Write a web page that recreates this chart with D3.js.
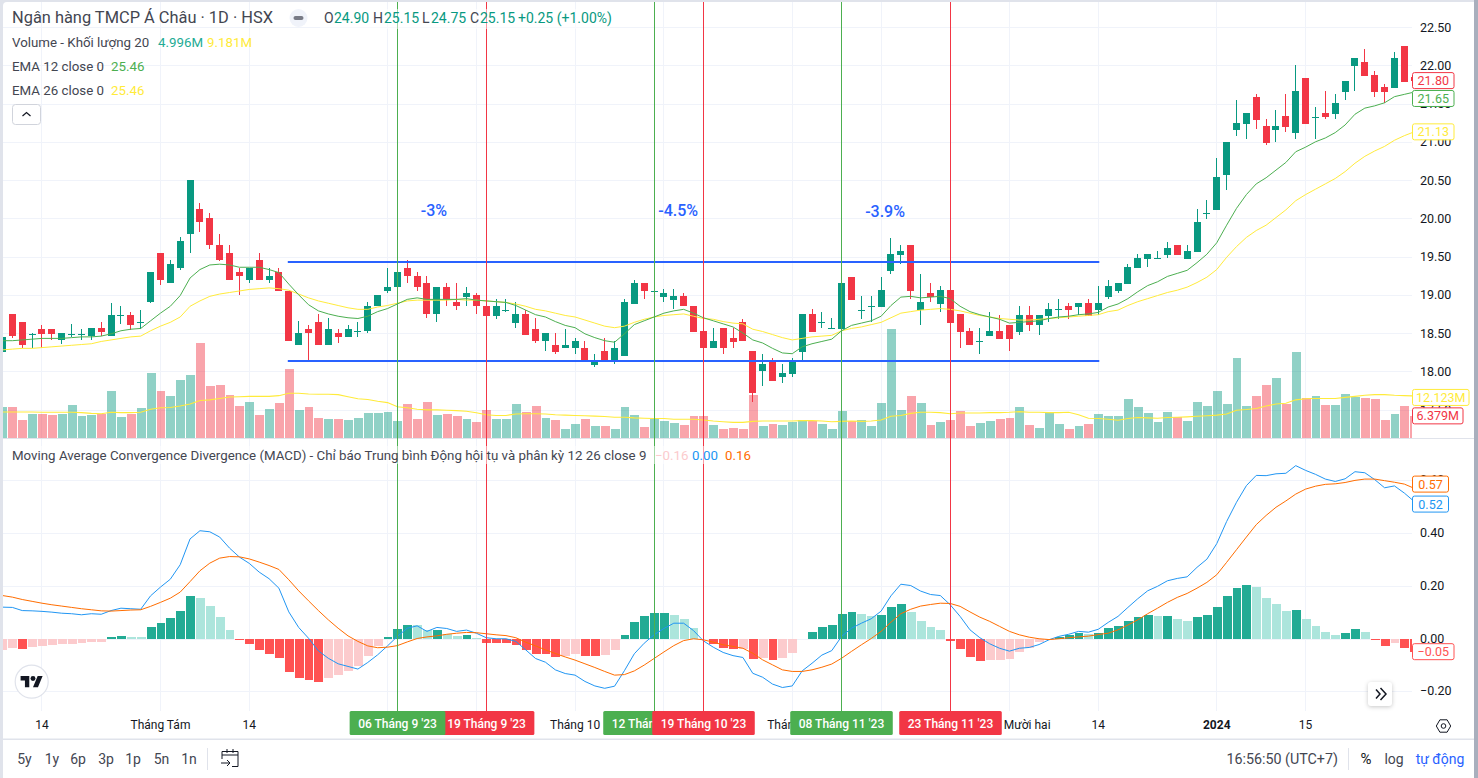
<!DOCTYPE html>
<html><head><meta charset="utf-8">
<script src="https://cdn.jsdelivr.net/npm/d3@7"></script>
<style>html,body{margin:0;padding:0;background:#fff;overflow:hidden}svg{display:block}text{font-family:Roboto,sans-serif}</style>
</head><body><svg id="c" width="1478" height="778"></svg>
<script>
const opens=[18.25,18.75,18.65,18.49,18.55,18.55,18.41,18.49,18.49,18.46,
18.56,18.46,18.74,18.74,18.65,18.91,19.55,19.15,19.35,19.80,
20.12,20.00,19.65,19.55,19.30,19.20,19.45,19.20,19.30,19.05,
18.35,18.55,18.65,18.35,18.50,18.45,18.53,18.53,18.85,19.05,
19.10,19.35,19.25,19.15,18.75,19.10,18.90,18.97,19.00,18.85,
18.72,18.80,18.63,18.75,18.55,18.40,18.35,18.30,18.30,18.30,
18.08,18.27,18.13,18.20,18.88,19.15,19.05,18.97,18.93,18.98,
18.85,18.53,18.30,18.57,18.43,18.65,18.27,18.00,18.15,17.93,
17.96,18.25,18.75,18.65,18.56,18.55,19.23,18.80,18.85,18.84,
19.31,19.52,19.65,18.80,19.02,18.88,19.06,18.75,18.53,18.39,
18.46,18.53,18.60,18.52,18.74,18.60,18.72,18.81,18.85,18.84,
18.89,18.80,18.97,19.05,19.14,19.35,19.47,19.48,19.52,19.65,
19.47,19.56,20.07,20.11,20.57,21.15,21.23,21.59,21.21,21.15,
21.34,21.12,21.83,21.33,21.38,21.36,21.65,21.99,22.04,21.87,
21.72,21.70,22.25,21.85];
const closes=[18.45,18.46,18.35,18.49,18.49,18.49,18.50,18.49,18.49,18.56,
18.51,18.74,18.74,18.60,18.65,19.30,19.20,19.40,19.70,20.50,
19.95,19.65,19.45,19.20,19.25,19.35,19.20,19.25,19.05,18.40,
18.50,18.50,18.35,18.55,18.45,18.55,18.53,18.85,19.00,19.10,
19.30,19.25,19.10,18.75,19.10,18.95,18.85,19.03,18.85,18.72,
18.85,18.80,18.75,18.47,18.40,18.50,18.25,18.35,18.40,18.13,
18.15,18.13,18.30,18.90,19.15,19.05,19.05,19.02,18.98,18.85,
18.52,18.30,18.40,18.30,18.38,18.40,17.72,18.10,17.87,17.98,
18.15,18.75,18.52,18.65,18.56,19.15,18.93,18.80,18.85,19.06,
19.53,19.57,19.05,18.90,18.97,19.06,18.63,18.52,18.35,18.39,
18.53,18.42,18.42,18.74,18.60,18.74,18.81,18.81,18.80,18.89,
18.72,18.89,19.12,19.15,19.36,19.48,19.53,19.48,19.61,19.52,
19.57,19.95,20.07,20.54,21.00,21.25,21.38,21.29,20.98,21.21,
21.19,21.66,21.23,21.33,21.32,21.51,21.80,22.10,21.86,21.65,
21.65,22.10,21.78,21.80];
const highs=[18.47,18.75,18.65,18.50,18.60,18.55,18.50,18.62,18.55,18.56,
18.64,18.89,18.85,18.78,18.80,19.30,19.55,19.45,19.75,20.50,
20.20,20.07,19.80,19.65,19.35,19.35,19.55,19.35,19.35,19.05,
18.66,18.60,18.75,18.70,18.55,18.60,18.65,18.90,19.00,19.35,
19.30,19.45,19.30,19.25,19.10,19.15,19.15,19.10,19.03,18.85,
18.95,18.95,18.90,18.80,18.70,18.50,18.50,18.55,18.43,18.40,
18.23,18.43,18.40,18.95,19.20,19.15,19.23,19.07,19.07,19.03,
18.85,18.53,18.57,18.57,18.57,18.68,18.27,18.23,18.18,18.10,
18.18,18.75,18.82,18.78,18.70,19.23,19.23,18.98,18.98,19.23,
19.74,19.65,19.65,19.27,19.15,19.12,19.06,18.75,18.57,18.57,
18.77,18.74,18.60,18.85,18.85,18.74,18.89,18.95,18.89,18.89,
18.95,19.12,19.20,19.15,19.40,19.53,19.53,19.57,19.69,19.65,
19.65,20.12,20.24,20.79,21.00,21.55,21.38,21.63,21.30,21.42,
21.63,22.00,21.83,21.45,21.66,21.63,21.80,22.10,22.21,21.93,
21.76,22.17,22.25,21.85];
const lows=[18.25,18.43,18.31,18.31,18.31,18.41,18.36,18.45,18.41,18.41,
18.46,18.46,18.62,18.54,18.55,18.89,19.13,19.15,19.33,19.55,
19.82,19.60,19.44,19.20,19.00,19.15,19.20,19.15,19.05,18.40,
18.35,18.15,18.35,18.35,18.37,18.45,18.45,18.50,18.85,19.03,
19.10,19.15,19.05,18.70,18.65,18.85,18.80,18.85,18.75,18.72,
18.68,18.78,18.57,18.47,18.37,18.27,18.22,18.30,18.22,18.13,
18.05,18.13,18.10,18.20,18.88,18.95,18.88,18.90,18.82,18.85,
18.52,18.30,18.30,18.23,18.30,18.40,17.60,17.81,17.87,17.85,
17.93,18.15,18.52,18.57,18.55,18.55,18.93,18.68,18.65,18.84,
19.27,19.40,18.95,18.60,18.90,18.78,18.63,18.30,18.35,18.23,
18.46,18.42,18.27,18.47,18.53,18.47,18.64,18.68,18.68,18.74,
18.72,18.74,18.95,19.02,19.14,19.35,19.36,19.47,19.48,19.52,
19.47,19.56,19.99,20.11,20.37,21.08,21.04,21.17,20.96,21.00,
21.13,21.04,21.23,21.04,21.30,21.30,21.55,21.66,21.86,21.59,
21.51,21.70,21.78,21.80];
const ema12=[18.40,18.40,18.41,18.42,18.43,18.43,18.43,18.44,18.45,18.45,
18.46,18.49,18.53,18.55,18.56,18.66,18.76,18.85,18.99,19.22,
19.33,19.39,19.40,19.39,19.36,19.36,19.36,19.33,19.29,19.14,
19.00,18.87,18.79,18.75,18.72,18.70,18.69,18.72,18.78,18.82,
18.88,18.94,18.96,18.94,18.94,18.94,18.94,18.95,18.93,18.92,
18.91,18.90,18.86,18.80,18.74,18.71,18.65,18.60,18.57,18.49,
18.44,18.40,18.38,18.49,18.61,18.66,18.71,18.76,18.79,18.81,
18.76,18.70,18.66,18.62,18.58,18.50,18.41,18.37,18.30,18.24,
18.23,18.32,18.36,18.39,18.42,18.53,18.60,18.63,18.66,18.72,
18.86,18.97,18.98,18.96,18.97,18.98,18.95,18.85,18.78,18.74,
18.71,18.68,18.63,18.64,18.65,18.66,18.69,18.71,18.72,18.74,
18.75,18.77,18.84,18.88,18.95,19.04,19.12,19.17,19.24,19.28,
19.32,19.42,19.53,19.68,19.91,20.13,20.31,20.45,20.53,20.63,
20.73,20.87,20.93,21.00,21.05,21.12,21.22,21.36,21.44,21.47,
21.51,21.59,21.62,21.65];
const ema26=[18.28,18.29,18.30,18.30,18.31,18.32,18.33,18.34,18.35,18.36,
18.39,18.41,18.43,18.45,18.46,18.53,18.59,18.64,18.71,18.85,
18.92,18.98,19.01,19.03,19.05,19.07,19.08,19.09,19.08,19.06,
19.01,18.96,18.92,18.89,18.86,18.83,18.81,18.81,18.84,18.86,
18.89,18.92,18.93,18.93,18.93,18.93,18.94,18.93,18.93,18.92,
18.91,18.90,18.88,18.85,18.81,18.79,18.76,18.73,18.71,18.67,
18.63,18.59,18.57,18.59,18.64,18.68,18.71,18.73,18.74,18.75,
18.72,18.69,18.68,18.65,18.63,18.62,18.55,18.52,18.48,18.44,
18.41,18.43,18.45,18.46,18.47,18.53,18.56,18.58,18.61,18.64,
18.70,18.76,18.78,18.80,18.81,18.82,18.81,18.79,18.76,18.73,
18.71,18.69,18.68,18.67,18.67,18.68,18.69,18.70,18.71,18.72,
18.73,18.74,18.78,18.80,18.86,18.91,18.95,18.99,19.03,19.06,
19.10,19.16,19.23,19.33,19.49,19.63,19.75,19.84,19.91,20.01,
20.11,20.23,20.31,20.38,20.45,20.52,20.61,20.72,20.81,20.88,
20.94,21.02,21.08,21.13];
const volumes=[8.9,8.9,5.2,6.9,6.9,6.6,6.9,9.5,6.3,6.6,
6.9,13.6,6.1,6.9,8.7,18.8,13.6,12.1,16.7,18.2,
27.4,15.0,15.3,12.4,9.2,10.4,6.6,8.4,10.1,19.9,
8.1,8.9,5.8,5.5,5.5,5.2,5.8,7.2,7.2,7.5,
4.9,9.8,5.5,10.4,6.6,6.9,6.3,5.5,4.6,8.1,
5.5,5.5,9.8,7.5,9.2,5.8,5.2,2.6,4.0,5.5,
3.5,3.5,2.6,8.9,6.6,3.2,5.5,4.9,4.3,3.8,
6.3,6.3,3.8,2.6,2.9,2.6,12.4,3.5,4.0,3.8,
4.6,5.2,4.9,4.0,2.6,7.8,4.9,5.2,3.5,10.1,
31.4,8.1,12.1,10.1,3.8,4.6,5.2,7.8,3.5,4.3,
4.9,5.5,5.8,8.9,3.8,2.9,7.2,4.0,2.6,3.5,
4.0,6.9,6.3,6.3,11.25,8.9,7.2,4.6,7.5,6.1,
4.9,10.4,9.2,13.6,9.8,23.1,9.2,12.1,15.3,17.3,
9.8,24.8,11.5,12.1,9.5,9.5,12.7,11.8,11.5,11.25,
5.2,6.9,9.2,6.379];
const volumeMA=[7.5,7.5,7.5,7.5,7.4,7.4,7.4,7.4,7.3,7.1,
7.0,7.4,7.3,7.3,7.4,8.3,8.7,8.8,9.2,9.8,
10.8,11.0,11.4,11.8,11.9,12.0,12.0,12.0,12.2,12.9,
12.9,12.7,12.6,12.6,12.5,11.9,11.3,11.1,10.6,10.2,
9.0,8.7,8.3,8.1,8.1,8.0,7.9,7.7,7.3,6.7,
6.5,6.5,6.9,7.0,7.0,6.9,6.7,6.6,6.5,6.4,
6.3,6.2,6.0,6.0,5.8,5.7,5.6,5.6,5.4,5.4,
5.4,5.2,4.9,4.7,4.5,4.5,4.8,4.9,4.9,4.9,
4.9,5.0,5.0,4.9,4.7,4.8,4.9,4.8,4.9,5.2,
6.25,6.5,7.1,7.4,7.4,7.3,7.0,7.2,7.2,7.2,
7.3,7.3,7.4,7.6,7.4,7.4,7.3,7.3,7.4,6.7,
5.7,5.6,5.4,5.1,5.6,5.9,5.8,5.7,5.9,6.0,
6.1,6.25,6.4,6.6,6.9,8.0,8.2,8.5,9.2,9.8,
10.0,11.0,11.3,11.4,11.4,11.4,11.7,12.0,12.3,12.5,
12.5,12.3,12.2,12.123];
const macdLine=[.119,.118,.106,.105,.103,.100,.096,.094,.090,.094,
.092,.106,.115,.113,.111,.162,.195,.225,.280,.378,
.409,.405,.385,.343,.309,.285,.252,.227,.191,.101,
.042,.001,-.047,-.075,-.096,-.106,-.116,-.091,-.062,-.028,
.008,.039,.048,.027,.042,.038,.027,.032,.020,.003,
-.001,-.001,-.011,-.043,-.076,-.090,-.119,-.133,-.139,-.163,
-.180,-.189,-.181,-.122,-.058,-.018,.014,.038,.058,.058,
.030,-.009,-.033,-.053,-.065,-.072,-.132,-.147,-.173,-.186,
-.180,-.123,-.094,-.063,-.046,.008,.039,.058,.075,.104,
.162,.206,.201,.180,.167,.163,.128,.084,.033,.003,
-.020,-.037,-.048,-.037,-.034,-.023,-.005,.008,.016,.027,
.024,.035,.061,.084,.118,.151,.181,.198,.219,.228,
.234,.270,.301,.360,.444,.517,.580,.619,.618,.625,
.627,.656,.638,.623,.605,.596,.606,.633,.629,.603,
.572,.579,.552,.52];
const signalLine=[.163,.157,.148,.141,.134,.128,.123,.118,.113,.109,
.105,.104,.106,.108,.109,.122,.137,.153,.176,.216,
.257,.286,.305,.311,.310,.302,.290,.277,.262,.223,
.181,.143,.106,.071,.039,.010,-.011,-.028,-.035,-.033,
-.027,-.013,.000,.006,.010,.016,.020,.023,.022,.018,
.014,.011,.003,-.014,-.028,-.043,-.057,-.070,-.082,-.096,
-.110,-.125,-.139,-.137,-.123,-.101,-.076,-.051,-.027,-.008,
-.001,-.005,-.014,-.024,-.030,-.037,-.056,-.081,-.100,-.119,
-.125,-.125,-.119,-.109,-.097,-.075,-.049,-.024,.000,.027,
.062,.094,.111,.123,.129,.134,.133,.122,.101,.081,
.065,.046,.027,.014,.005,-.001,-.004,-.001,.003,.006,
.009,.015,.020,.033,.051,.071,.094,.115,.137,.156,
.171,.191,.213,.242,.289,.337,.385,.432,.467,.498,
.522,.548,.567,.578,.585,.587,.592,.600,.605,.605,
.599,.593,.586,.57];
const histogram=[-.043,-.035,-.040,-.032,-.028,-.024,-.020,-.019,-.018,-.013,
-.012,.006,.010,.007,.006,.044,.060,.078,.105,.162,
.154,.124,.082,.033,-.005,-.020,-.043,-.058,-.073,-.127,
-.149,-.157,-.165,-.149,-.138,-.123,-.104,-.066,-.028,.006,
.037,.052,.051,.033,.034,.018,.010,.014,.003,-.016,
-.017,-.018,-.024,-.043,-.058,-.059,-.070,-.066,-.058,-.066,
-.067,-.062,-.043,.014,.063,.086,.097,.098,.090,.075,
.040,-.003,-.020,-.035,-.040,-.039,-.077,-.073,-.081,-.073,
-.054,-.003,.025,.044,.052,.094,.101,.094,.086,.090,
.120,.132,.101,.067,.044,.033,-.009,-.040,-.070,-.085,
-.081,-.080,-.077,-.051,-.035,-.013,-.005,.006,.014,.022,
.018,.022,.040,.048,.067,.082,.090,.086,.087,.075,
.067,.082,.090,.120,.162,.192,.204,.196,.154,.132,
.105,.109,.075,.048,.025,.014,.022,.037,.025,-.005,
-.028,-.016,-.035,-.05];
const priceTicks=[22.5,22,21.5,21,20.5,20,19.5,19,18.5,18,17.5];
const macdTicks=[0.6,0.4,0.2,0,-0.2];
const gridIndex=[4,16,25,39,48,58,67,80,89,102,111,123,132];
const timeLabels=[[4,"14"],[16,"Tháng Tám"],[25,"14"],[58,"Tháng 10"],[80,"Tháng 11"],[103.8,"Mười hai"],[111,"14"],[123,"2024"],[132,"15"]];
const markers=[[49,"19 Tháng 9 '23","r"],[40,"06 Tháng 9 '23","g"],[66,"12 Tháng 10 '23","g"],[71,"19 Tháng 10 '23","r"],[85,"08 Tháng 11 '23","g"],[96,"23 Tháng 11 '23","r"]];
const rangeLevels=[19.43,18.135];
const rangeSpan=[29,111];
const notes=[[43.7,20.03,"-3%"],[68.45,20.03,"-4.5%"],[89.4,20.02,"-3.9%"]];
const ranges=["5y","1y","6p","3p","1p","5n","1n"];

const green="#089981",red="#f23645",ink="#131722",soft="#434651";
const svg=d3.select("#c");
const X=d3.scaleLinear().domain([0,143]).range([2.5,1414.2]);
const Y=d3.scaleLinear().domain([18,20]).range([371.3,218.3]);
const V=d3.scaleLinear().domain([0,10]).range([438,403.3]);
const M=d3.scaleLinear().domain([0,0.2]).range([638.5,585.8]);
const idx=d3.range(opens.length);
const defs=svg.append("defs");
defs.append("clipPath").attr("id","top").append("rect").attr("x",3).attr("y",2).attr("width",1409).attr("height",436);
defs.append("clipPath").attr("id","bot").append("rect").attr("x",3).attr("y",439).attr("width",1409).attr("height",272);

function T(g,x,y,s,o={}){const t=g.append("text").attr("x",x).attr("y",y).text(s)
 .attr("font-size",o.size||13.3).attr("fill",o.fill||ink);
 if(o.anchor)t.attr("text-anchor",o.anchor); if(o.weight)t.attr("font-weight",o.weight); return t;}

// frame
svg.append("rect").attr("width",1478).attr("height",778).attr("fill","#e0e3eb");
svg.append("rect").attr("x",1474).attr("width",4).attr("height",778).attr("fill","#a9afbd");
svg.append("path").attr("d","M3 778V6a4 4 0 0 1 4-4H1474V778Z").attr("fill","#fff");

// grid
const grid=svg.append("g").attr("stroke","#f0f3fa").attr("shape-rendering","crispEdges");
grid.selectAll(".v").data(gridIndex).join("line").attr("x1",d=>Math.floor(X(d))+.5).attr("x2",d=>Math.floor(X(d))+.5).attr("y1",2).attr("y2",711);
grid.selectAll(".h").data(priceTicks).join("line").attr("x1",3).attr("x2",1412).attr("y1",d=>Math.round(Y(d))+.5).attr("y2",d=>Math.round(Y(d))+.5);
grid.selectAll(".m").data(macdTicks).join("line").attr("x1",3).attr("x2",1412).attr("y1",d=>Math.round(M(d))+.5).attr("y2",d=>Math.round(M(d))+.5);

const pricePane=svg.append("g").attr("clip-path","url(#top)");
// volume
const bandL=i=>Math.round(X(i-0.5))+1, bandR=i=>Math.round(X(i+0.5));
pricePane.append("g").attr("shape-rendering","crispEdges").selectAll("rect").data(idx).join("rect")
 .attr("x",bandL).attr("width",i=>bandR(i)-bandL(i))
 .attr("y",i=>V(volumes[i])).attr("height",i=>V(0)-V(volumes[i]))
 .attr("fill",i=>closes[i]>=opens[i]?green:red).attr("opacity",.45);
const line=(arr,sc)=>d3.line().x((d,i)=>X(i)).y(d=>sc(d))(arr);
pricePane.append("path").attr("d",line(volumeMA,V)).attr("fill","none").attr("stroke","#ffeb3b").attr("stroke-width",1.1);
// candles
const cg=pricePane.append("g").attr("shape-rendering","crispEdges");
cg.selectAll(".w").data(idx).join("rect").attr("x",i=>Math.floor(X(i))).attr("width",1)
 .attr("y",i=>Y(highs[i])).attr("height",i=>Math.max(1,Y(lows[i])-Y(highs[i])))
 .attr("fill",i=>closes[i]>=opens[i]?green:red);
cg.selectAll(".b").data(idx).join("rect").attr("x",i=>Math.floor(X(i))-3).attr("width",7)
 .attr("y",i=>Y(Math.max(opens[i],closes[i]))).attr("height",i=>Math.max(1,Math.abs(Y(opens[i])-Y(closes[i]))))
 .attr("fill",i=>closes[i]>=opens[i]?green:red);
pricePane.append("path").attr("d",line(ema26,Y)).attr("fill","none").attr("stroke","#ffeb3b").attr("stroke-width",1);
pricePane.append("path").attr("d",line(ema12,Y)).attr("fill","none").attr("stroke","#4caf50").attr("stroke-width",1);
// range lines
pricePane.selectAll(".r").data(rangeLevels).join("line").attr("x1",X(rangeSpan[0])-1).attr("x2",X(rangeSpan[1])+1)
 .attr("y1",d=>Y(d)).attr("y2",d=>Y(d)).attr("stroke","#2962ff").attr("stroke-width",2);

// MACD
const macdPane=svg.append("g").attr("clip-path","url(#bot)");
const histColor=i=>{const v=histogram[i],p=i?histogram[i-1]:v;
 return v>=0?(v>p?"#22ab94":"#ace5dc"):(v<p?"#ff5252":"#fccbcd");};
macdPane.append("g").attr("shape-rendering","crispEdges").selectAll("rect").data(idx).join("rect")
 .attr("x",bandL).attr("width",i=>bandR(i)-bandL(i))
 .attr("y",i=>Math.min(M(0),M(histogram[i]))).attr("height",i=>Math.abs(M(0)-M(histogram[i])))
 .attr("fill",histColor);
macdPane.append("path").attr("d",line(macdLine,M)).attr("fill","none").attr("stroke","#2196f3").attr("stroke-width",1);
macdPane.append("path").attr("d",line(signalLine,M)).attr("fill","none").attr("stroke","#ff6d00").attr("stroke-width",1);

// pane divider
svg.append("rect").attr("x",3).attr("y",438).attr("width",1471).attr("height",1).attr("fill","#e0e3eb");

// date markers lines
const mcol=k=>k==="g"?"#4caf50":"#f23645";
svg.append("g").attr("shape-rendering","crispEdges").selectAll("line").data(markers).join("line")
 .attr("x1",d=>Math.floor(X(d[0]))+.5).attr("x2",d=>Math.floor(X(d[0]))+.5).attr("y1",2).attr("y2",711)
 .attr("stroke",d=>mcol(d[2]));

// percentage notes
notes.forEach(n=>T(svg,X(n[0]),Y(n[1]),n[2],{anchor:"middle",size:16,fill:"#2962ff",weight:500}));

// legend translucent backing
svg.append("rect").attr("x",320).attr("y",9).attr("width",290).attr("height",20).attr("fill","#fff").attr("opacity",.5);
svg.append("rect").attr("x",12).attr("y",446).attr("width",740).attr("height",18).attr("fill","#fff").attr("opacity",.5);

// price axis
const ax=svg.append("g");
priceTicks.forEach(t=>T(ax,1420,Y(t)+4.5,t.toFixed(2),{size:12.5}));
macdTicks.forEach(t=>T(ax,1420,M(t)+4,(t<0?"−":"")+Math.abs(t).toFixed(2),{size:12.5}));

// value boxes
function box(cy,w,txt,col){const g=svg.append("g");
 g.append("rect").attr("x",1412.5).attr("y",cy-8).attr("width",w).attr("height",16).attr("rx",2)
  .attr("fill","#fff").attr("stroke",col);
 T(g,1412.5+w/2,cy+4.5,txt,{anchor:"middle",size:12.5,fill:col});}
box(Y(closes[143]),41.5,"21.80","#f23645");
box(Y(ema12[143])+6.4,41.5,"21.65","#4caf50");
box(Y(ema26[143]),41.5,"21.13","#ffeb3b");
box(V(volumeMA[143])+1.5,56.5,"12.123M","#ffeb3b");
box(V(volumes[143]),50.5,"6.379M","#f23645");
box(M(signalLine[143])-4.2,36,"0.57","#ff6d00");
box(M(macdLine[143])+.1+2.5,36,"0.52","#2196f3");
box(M(histogram[143])+0,41.5,"−0.05","#ff5252");

// time axis
const ta=svg.append("g");
timeLabels.forEach(d=>T(ta,X(d[0]),729,d[1],{anchor:"middle",size:12,weight:d[1]==="2024"?700:400}));
markers.forEach(d=>{const g=svg.append("g"),x=Math.floor(X(d[0]))+.5;
 const t=T(g,x,727.5,d[1],{anchor:"middle",size:12,fill:"#fff",weight:500});
 const w=t.node().getComputedTextLength()+17;
 g.insert("rect","text").attr("x",x-w/2).attr("y",711).attr("width",w).attr("height",24).attr("rx",1.5).attr("fill",mcol(d[2]));});
// gear
const gear=svg.append("g").attr("transform","translate(1443.5,726)").attr("fill","none").attr("stroke",ink);
gear.append("path").attr("d","M-3.6-6.2H3.6L7.2 0 3.6 6.2H-3.6L-7.2 0Z");
gear.append("circle").attr("r",2.3);

// legend
const lg=svg.append("g");
T(lg,12,23,"Ngân hàng TMCP Á Châu · 1D · HSX",{size:16.4,fill:soft});
lg.append("circle").attr("cx",298.5).attr("cy",18).attr("r",9).attr("fill","#f0f3fa");
lg.append("rect").attr("x",293.5).attr("y",16).attr("width",10).attr("height",4).attr("rx",2).attr("fill","#787b86");
[[324,"O",334,"24.90"],[373,"H",384,"25.15"],[422,"L",431,"24.75"],[470,"C",480,"25.15"],[518,"",518,"+0.25 (+1.00%)"]].forEach(p=>{
 if(p[1])T(lg,p[0],23,p[1],{size:14,fill:soft});
 T(lg,p[2],23,p[3],{size:14,fill:green});});
T(lg,12,47,"Volume - Khối lượng 20",{fill:soft});
T(lg,158,47,"4.996M",{fill:"#22ab94"});
T(lg,207,47,"9.181M",{fill:"#ffeb3b"});
T(lg,12,71,"EMA 12 close 0",{fill:soft});
T(lg,111,71,"25.46",{fill:"#4caf50"});
T(lg,12,95,"EMA 26 close 0",{fill:soft});
T(lg,111,95,"25.46",{fill:"#ffeb3b"});
lg.append("rect").attr("x",12.5).attr("y",104.5).attr("width",28).attr("height",20).attr("rx",3).attr("fill","#fff").attr("stroke","#d1d4dc");
lg.append("path").attr("d","M22.5 116l4-3.5 4 3.5").attr("fill","none").attr("stroke",ink).attr("stroke-width",1.2);
T(lg,12,460,"Moving Average Convergence Divergence (MACD) - Chỉ báo Trung bình Động hội tụ và phân kỳ 12 26 close 9",{fill:soft});
T(lg,655,460,"−0.16",{fill:"#fccbcd"});
T(lg,692,460,"0.00",{fill:"#2196f3"});
T(lg,725,460,"0.16",{fill:"#ff6d00"});

// logo
const lo=svg.append("g");
lo.append("circle").attr("cx",31.7).attr("cy",681.7).attr("r",16.5).attr("fill","#fff").attr("stroke","#e0e3eb").attr("stroke-width",1.2);
const lm=lo.append("g").attr("transform","translate(20.6,675.5) scale(.62)").attr("fill","#131722");
lm.append("path").attr("d","M14 19H7V8H0V1h14zM28 19h-8l7.5-18h8z");
lm.append("circle").attr("cx",20).attr("cy",5).attr("r",4);
// scroll button
svg.append("rect").attr("x",1368).attr("y",682).attr("width",24).attr("height",24).attr("rx",3).attr("fill","#fff")
 .style("filter","drop-shadow(0 1px 2px rgba(0,0,0,.22))");
svg.append("path").attr("d","M1376 689.5l4 4.5-4 4.5M1380.5 688l5.5 6-5.5 6").attr("fill","none").attr("stroke",ink).attr("stroke-width",1.5);

// bottom bar
svg.append("rect").attr("x",3).attr("y",738.5).attr("width",1471).attr("height",1.5).attr("fill","#e0e3eb");
const tb=svg.append("g");
d3.zip(ranges,[24.5,52,78,106,133,161.5,189]).forEach(d=>T(tb,d[1],764,d[0],{anchor:"middle",size:14,fill:soft}));
tb.append("rect").attr("x",207).attr("y",748).attr("width",1).attr("height",22).attr("fill","#e0e3eb");
tb.append("path").attr("d","M222 755H238V766.5H232M222 755V751.5H238V755M227 749V753M233 749V753M221 763H230M227 760l3 3-3 3M222 755V759").attr("fill","none").attr("stroke",ink);
T(tb,1338,764,"16:56:50 (UTC+7)",{anchor:"end",size:14.3,fill:soft});
tb.append("rect").attr("x",1348).attr("y",748).attr("width",1).attr("height",22).attr("fill","#e0e3eb");
T(tb,1366,764,"%",{anchor:"middle",size:15,fill:ink});
T(tb,1394,764,"log",{anchor:"middle",size:14,fill:soft});
T(tb,1440,764,"tự động",{anchor:"middle",size:14,fill:"#2962ff"});
</script></body></html>
